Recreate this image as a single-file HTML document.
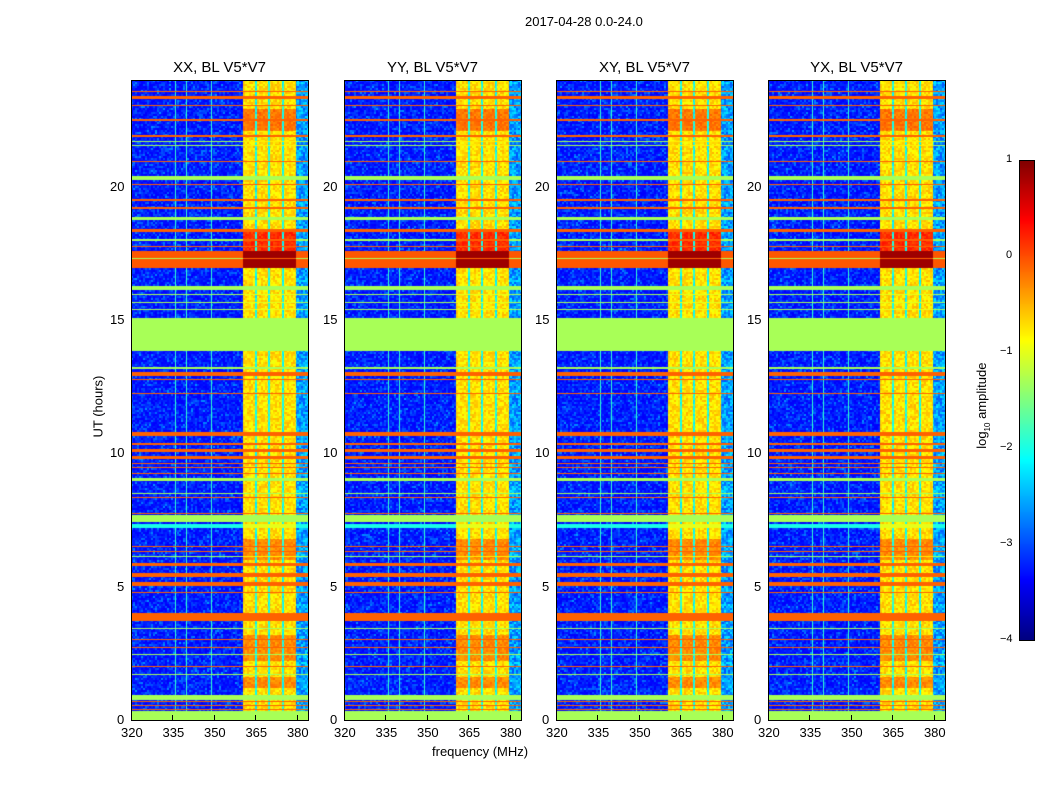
<!DOCTYPE html>
<html><head><meta charset="utf-8">
<style>
body{margin:0;background:#fff;font-family:"Liberation Sans",sans-serif;}
#root{position:relative;width:1050px;height:800px;overflow:hidden;}
.t{position:absolute;font-size:13px;color:#000;white-space:nowrap;}
.pt{position:absolute;font-size:15px;white-space:nowrap;transform:translateX(-50%);}
canvas{position:absolute;}
.frame{position:absolute;border:1px solid #000;box-sizing:border-box;}
.tick{position:absolute;background:#000;}
</style></head><body>
<div id="root">
<div class="t" style="left:525px;top:14px;">2017-04-28 0.0-24.0</div>
<div class="t" style="left:432px;top:744px;">frequency (MHz)</div>
<div class="t" style="left:60px;top:392px;transform:rotate(-90deg);transform-origin:center;width:76px;">UT (hours)</div>
<div class="t" style="left:935px;top:392px;transform:rotate(-90deg);transform-origin:center;width:96px;">log<sub style="font-size:8px">10</sub> amplitude</div>
</div>
<script>
// Data arrays (hours / log10 amplitude)
const panelTitles=["XX, BL V5*V7","YY, BL V5*V7","XY, BL V5*V7","YX, BL V5*V7"];
const xTicks=[320,335,350,365,380];
const yTicks=[0,5,10,15,20];
const cbTicks=[1,0,-1,-2,-3,-4];
const bandStart=[23.56,23.3,23.03,22.48,21.88,21.52,21.68,20.93,20.25,20.07,19.48,19.18,18.76,18.3,17.98,17.73,16.95,17.28,16.12,15.92,15.62,15.38,13.85,13.17,12.9,12.74,12.24,10.65,10.3,10.06,9.8,9.6,9.44,9.24,8.96,8.49,8.34,7.74,7.42,7.2,6.5,6.3,6.1,5.76,5.36,5.02,4.76,3.72,3.4,2.99,2.7,2.45,2.0,1.7,0.76,0.66,0.51,0.38,0.0];
const bandEnd=  [23.6,23.4,23.08,22.53,21.92,21.56,21.72,20.98,20.4,20.11,19.53,19.22,18.86,18.4,18.02,17.78,17.58,17.33,16.28,15.96,15.66,15.42,15.08,13.22,13.04,12.78,12.28,10.8,10.4,10.18,9.9,9.64,9.48,9.28,9.06,8.53,8.38,7.78,7.68,7.34,6.54,6.34,6.14,5.88,5.5,5.18,4.8,4.0,3.44,3.03,2.74,2.49,2.04,1.74,0.93,0.7,0.55,0.42,0.35];
const bandLevel=[-0.1,-0.1,-0.1,-0.1,-0.1,-1.3,-1.3,-0.1,-1.3,-0.1,-0.1,-0.1,-1.3,-0.1,-1.3,-0.1,-0.05,-1.3,-1.3,-1.3,-1.3,-1.3,-1.3,-1.3,-0.1,-0.1,-0.1,-0.1,-0.1,-0.1,-0.1,-0.1,-0.1,-0.1,-1.3,-1.3,-0.1,-0.1,-1.3,-2.0,-0.1,-0.1,-1.3,-0.1,-0.1,-0.1,-0.1,-0.1,-1.3,-0.1,-0.1,-1.3,-0.1,-1.3,-1.3,-0.1,-0.1,-0.1,-1.3];
const bandLevelHot=[-0.1,-0.1,-0.1,-0.1,-0.1,-0.8,-0.8,-0.1,-1.3,-0.1,-0.1,-0.1,-1.3,-0.1,-0.1,-0.1,0.85,-0.1,-1.3,-1.0,-1.0,-1.0,-1.3,-1.3,-0.1,-0.1,-0.1,-0.1,-0.1,-0.1,-0.1,-0.1,-0.1,-0.1,-1.3,-1.3,-0.1,-0.1,-1.3,-1.0,-0.1,-0.1,-0.8,-0.1,-0.1,-0.1,-0.1,-0.1,-1.3,-0.1,-0.1,-1.3,-0.1,-1.3,-1.3,-0.1,-0.1,-0.1,-1.3];
const hotStart=[22.1,17.6,2.2,6.0,1.2];
const hotEnd=  [22.9,18.3,3.2,6.8,1.6];
const hotLevel=[-0.35,0.0,-0.45,-0.45,-0.45];
const gapFreqs=[365.2,370.0,375.0];
const lineFreqs=[336,340,349];
const hotFreqLo=360.5, hotFreqHi=379.8, fMin=320, fMax=384, vMin=-4, vMax=1;

const root=document.getElementById('root');
const panelX=[131,344,556,768], pW=177, pTop=80, pH=640;
function hash(a,b){let h=(a*374761393+b*668265263)|0;h=(h^(h>>>13))*1274126177|0;return ((h^(h>>>16))>>>0)/4294967295;}
function jet(v){let t=Math.max(0,Math.min(1,(v-vMin)/(vMax-vMin)));const c=x=>Math.round(255*Math.max(0,Math.min(1,1.5-Math.abs(x))));return [c(4*t-3),c(4*t-2),c(4*t-1)];}
function xScale(f){return (f-fMin)/(fMax-fMin)*pW;}
function yScale(h){return pH-h/24*pH;}
function value(h,f,p,i,j){
  const hot=f>=hotFreqLo&&f<=hotFreqHi;
  let v;
  if(hot){v=-0.95+0.45*hash(i+p*7,j);for(let k=0;k<hotStart.length;k++)if(h>=hotStart[k]&&h<hotEnd[k])v=hotLevel[k]+0.3*hash(i,j+p);
    for(const g of gapFreqs)if(Math.abs(f-g)<0.3)v=-2.3+0.5*hash(i,j);}
  else if(f>hotFreqHi){v=-3.0+0.8*hash(i,j+3);}
  else{v=-3.4+0.8*hash(i+p*13,j)*hash(j,i);for(const lf of lineFreqs)if(Math.abs(f-lf)<0.15)v=-1.9;}
  for(let k=0;k<bandStart.length;k++)if(h>=bandStart[k]&&h<bandEnd[k])v=hot?bandLevelHot[k]:bandLevel[k];
  return v;
}
panelX.forEach((px,p)=>{
  const cv=document.createElement('canvas');cv.width=pW;cv.height=pH;
  cv.style.left=px+'px';cv.style.top=pTop+'px';
  
  
  root.appendChild(cv);
  const ctx=cv.getContext('2d');const img=ctx.createImageData(pW,pH);
  for(let y=0;y<pH;y++){const h=(pH-y-0.5)/pH*24;
    for(let x=0;x<pW;x++){const f=fMin+(x+0.5)/pW*(fMax-fMin);
      const c=jet(value(h,f,p,Math.floor(y/2),Math.floor(x/2)));const o=(y*pW+x)*4;
      img.data[o]=c[0];img.data[o+1]=c[1];img.data[o+2]=c[2];img.data[o+3]=255;}}
  ctx.putImageData(img,0,0);
  const fr=document.createElement('div');fr.className='frame';
  fr.style.cssText=`left:${px}px;top:${pTop}px;width:${pW+1}px;height:${pH+1}px;`;
  
  
  root.appendChild(fr);
  const tt=document.createElement('div');tt.className='pt';tt.textContent=panelTitles[p];
  tt.style.left=(px+pW/2)+'px';tt.style.top='59px';
  
  
  root.appendChild(tt);
  xTicks.forEach(v=>{const x=px+xScale(v);
    const l=document.createElement('div');l.className='t';l.textContent=v;l.style.left=(x-10)+'px';l.style.top='725px';
    
    
    root.appendChild(l);
    const tk=document.createElement('div');tk.className='tick';tk.style.cssText=`left:${x}px;top:${pTop+pH-5}px;width:1px;height:5px;`;
    
    
    root.appendChild(tk);});
  yTicks.forEach(v=>{const y=pTop+yScale(v);
    const l=document.createElement('div');l.className='t';l.textContent=v;l.style.left=(px-6-(v>=10?15:8))+'px';l.style.top=(y-8)+'px';
    
    
    root.appendChild(l);});
});
// colorbar
const cb=document.createElement('canvas');cb.width=15;cb.height=480;cb.style.left='1019px';cb.style.top='160px';


root.appendChild(cb);
const cctx=cb.getContext('2d');
for(let y=0;y<480;y++){const c=jet(vMax-(y+0.5)/480*(vMax-vMin));cctx.fillStyle=`rgb(${c})`;cctx.fillRect(0,y,15,1);}
const cbf=document.createElement('div');cbf.className='frame';cbf.style.cssText='left:1019px;top:160px;width:16px;height:481px;';


root.appendChild(cbf);
cbTicks.forEach(v=>{const y=160+(vMax-v)/(vMax-vMin)*480;
  const l=document.createElement('div');l.className='t';l.style.fontSize='11px';l.textContent=v<0?'\u2212'+(-v):v;
  l.style.left=(v<0?1000:1006)+'px';l.style.top=(y-7)+'px';
  
  
  root.appendChild(l);});
</script>
</body></html>
